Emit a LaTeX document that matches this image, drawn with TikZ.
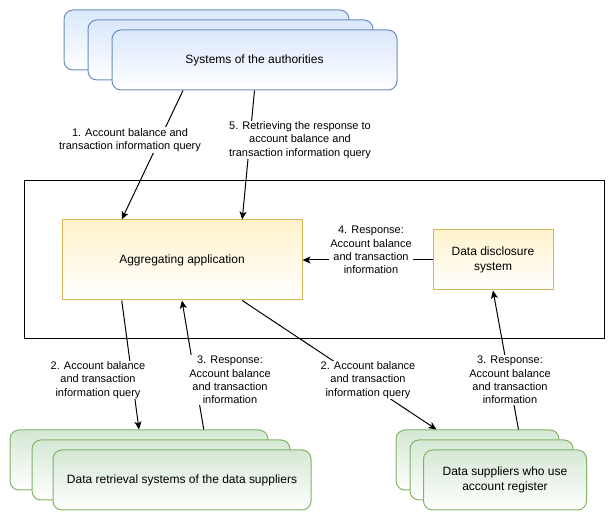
\documentclass[tikz,border=0pt]{standalone}
\usepackage{fontspec}
\setmainfont{Liberation Sans}
\usetikzlibrary{arrows.meta, positioning, calc}
\definecolor{authfill}{HTML}{DAE8FC}
\definecolor{authline}{HTML}{6C8EBF}
\definecolor{appfill}{HTML}{FFF2CC}
\definecolor{appline}{HTML}{D6B656}
\definecolor{supfill}{HTML}{D5E8D4}
\definecolor{supline}{HTML}{82B366}

\begin{document}
\begin{tikzpicture}[
  x=1pt, y=-1pt,
  base/.style={rectangle, inner sep=2pt, align=center, line width=1pt,
               font=\fontsize{12}{14.5}\selectfont, text=black},
  authbox/.style={base, rounded corners=9pt, draw=authline, top color=authfill,
                  bottom color=white, minimum width=285pt, minimum height=60pt},
  appbox/.style={base, draw=appline, top color=appfill, bottom color=white},
  supbox/.style={base, rounded corners=9pt, draw=supline, top color=supfill,
                 bottom color=white, minimum height=60pt},
  frame/.style={rectangle, draw=black, line width=1pt, minimum width=580pt, minimum height=158pt},
  arrow/.style={-{Stealth[length=8pt, width=7pt, inset=2pt]}, line width=1pt, color=black},
  lbl/.style={fill=white, inner sep=1pt, align=center, font=\fontsize{11}{13.3}\selectfont}
]
  \useasboundingbox (0,0) rectangle (614,521);

  \node[frame] (main) at (314,260) {};

  \node[authbox] (auth3) at (206.5,40) {};
  \node[authbox] (auth2) at (230.5,50) {};
  \node[authbox] (auth) at (254.5,60) {Systems of the authorities};

  \node[appbox, minimum width=240pt, minimum height=80pt] (agg) at (182,260) {Aggregating application};
  \node[appbox, minimum width=120pt, minimum height=60pt] (disc) at (493,260) {Data disclosure\\system};

  \node[supbox, minimum width=258pt] (retr3) at (139,460) {};
  \node[supbox, minimum width=258pt] (retr2) at (161,470) {};
  \node[supbox, minimum width=258pt] (retr) at (182,480) {Data retrieval systems of the data suppliers};

  \node[supbox, minimum width=163pt] (reg3) at (477.5,460) {};
  \node[supbox, minimum width=163pt] (reg2) at (491.5,470) {};
  \node[supbox, minimum width=163pt] (reg) at (505,480) {Data suppliers who use\\account register};

  \draw[arrow] ($(auth.south west)!0.25!(auth.south east)$) -- ($(agg.north west)!0.25!(agg.north east)$);
  \draw[arrow] (auth.south) -- ($(agg.north west)!0.75!(agg.north east)$);
  \draw[arrow] (disc.west) -- (agg.east);
  \draw[arrow] ($(agg.south west)!0.25!(agg.south east)$) -- (retr3.north);
  \draw[arrow] ($(retr3.north west)!0.75!(retr3.north east)$) -- (agg.south);
  \draw[arrow] ($(agg.south west)!0.75!(agg.south east)$) -- ($(reg3.north west)!0.25!(reg3.north east)$);
  \draw[arrow] ($(reg3.north west)!0.75!(reg3.north east)$) -- (disc.south);

  \node[lbl] (q1) at (130,140) {1. Account balance and\\transaction information query};
  \node[lbl] (r5) at (300,140) {5. Retrieving the response to\\account balance and\\transaction information query};
  \node[lbl] (r4) at (371,250) {4. Response:\\Account balance\\and transaction\\information};
  \node[lbl] (q2a) at (98,380) {2. Account balance\\and transaction\\information query};
  \node[lbl] (r3a) at (230,380) {3. Response:\\Account balance\\and transaction\\information};
  \node[lbl] (q2b) at (368,380) {2. Account balance\\and transaction\\information query};
  \node[lbl] (r3b) at (510,380) {3. Response:\\Account balance\\and transaction\\information};
\end{tikzpicture}
\end{document}
